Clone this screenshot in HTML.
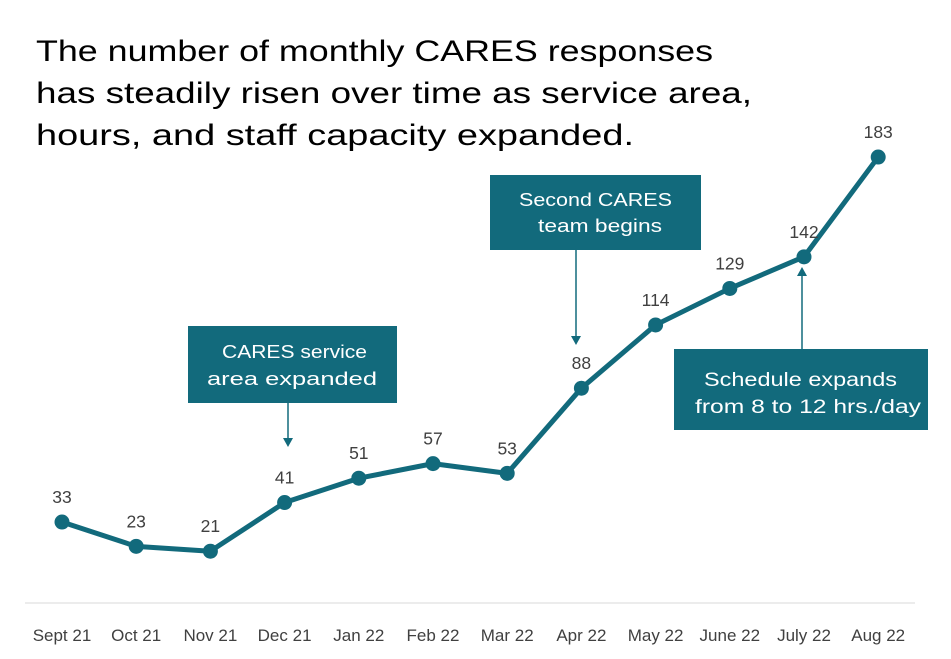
<!DOCTYPE html>
<html><head><meta charset="utf-8"><style>
body{margin:0;background:#fff;width:951px;height:654px;overflow:hidden;font-family:"Liberation Sans",sans-serif}
</style></head><body>
<svg width="951" height="654" xmlns="http://www.w3.org/2000/svg">
<g font-size="30" fill="#000">
<text x="36" y="61" textLength="677" lengthAdjust="spacingAndGlyphs">The number of monthly CARES responses</text>
<text x="36" y="103" textLength="716" lengthAdjust="spacingAndGlyphs">has steadily risen over time as service area,</text>
<text x="36" y="145" textLength="598" lengthAdjust="spacingAndGlyphs">hours, and staff capacity expanded.</text>
</g>
<line x1="25" y1="603" x2="915" y2="603" stroke="#d9d9d9" stroke-width="1"/>
<g id="xlabels"></g>
<g id="series"></g>
<g font-size="18" fill="#fff">
<rect x="188" y="326" width="209" height="77" fill="#126a7c"/>
<text x="222" y="358" textLength="145" lengthAdjust="spacingAndGlyphs">CARES service</text>
<text x="207" y="385" textLength="170" lengthAdjust="spacingAndGlyphs">area expanded</text>
<line x1="288" y1="403" x2="288" y2="440" stroke="#126a7c" stroke-width="1.5"/>
<polygon points="283,438 293,438 288,447" fill="#126a7c"/>
</g>
<g font-size="18" fill="#fff">
<rect x="490" y="175" width="211" height="75" fill="#126a7c"/>
<text x="519" y="206" textLength="153" lengthAdjust="spacingAndGlyphs">Second CARES</text>
<text x="538" y="232" textLength="124" lengthAdjust="spacingAndGlyphs">team begins</text>
<line x1="576" y1="250" x2="576" y2="338" stroke="#126a7c" stroke-width="1.5"/>
<polygon points="571,336 581,336 576,345" fill="#126a7c"/>
</g>
<g font-size="19" fill="#fff">
<rect x="674" y="349" width="254" height="81" fill="#126a7c"/>
<text x="704" y="386" textLength="193" lengthAdjust="spacingAndGlyphs">Schedule expands</text>
<text x="695" y="413" textLength="226" lengthAdjust="spacingAndGlyphs">from 8 to 12 hrs./day</text>
<line x1="802" y1="349" x2="802" y2="275" stroke="#126a7c" stroke-width="1.5"/>
<polygon points="797,276 807,276 802,267" fill="#126a7c"/>
</g>
</svg>
<script>
const categories=["Sept 21","Oct 21","Nov 21","Dec 21","Jan 22","Feb 22","Mar 22","Apr 22","May 22","June 22","July 22","Aug 22"];
const responses=[33,23,21,41,51,57,53,88,114,129,142,183];
const NS="http://www.w3.org/2000/svg";
function xScale(i){return 62+i*74.2;}
function yScale(v){return 602.3-v*2.433;}
const series=document.getElementById('series');
const xl=document.getElementById('xlabels');
let d="";
responses.forEach((v,i)=>{d+=(i?"L":"M")+xScale(i)+","+yScale(v);});
const p=document.createElementNS(NS,'path');


p.setAttribute('d',d);p.setAttribute('fill','none');p.setAttribute('stroke','#126a7c');p.setAttribute('stroke-width','5');p.setAttribute('stroke-linejoin','round');
series.appendChild(p);
responses.forEach((v,i)=>{
 const c=document.createElementNS(NS,'circle');
 
 
 c.setAttribute('cx',xScale(i));c.setAttribute('cy',yScale(v));c.setAttribute('r','7.5');c.setAttribute('fill','#126a7c');
 series.appendChild(c);
 const t=document.createElementNS(NS,'text');
 
 
 t.setAttribute('x',xScale(i));t.setAttribute('y',yScale(v)-19);t.setAttribute('text-anchor','middle');t.setAttribute('font-size','17.5');t.setAttribute('fill','#404040');
 t.textContent=v;series.appendChild(t);
 const l=document.createElementNS(NS,'text');
 
 
 l.setAttribute('x',xScale(i));l.setAttribute('y',641);l.setAttribute('text-anchor','middle');l.setAttribute('font-size','17');l.setAttribute('fill','#404040');
 l.textContent=categories[i];xl.appendChild(l);
});
</script>
</body></html>
